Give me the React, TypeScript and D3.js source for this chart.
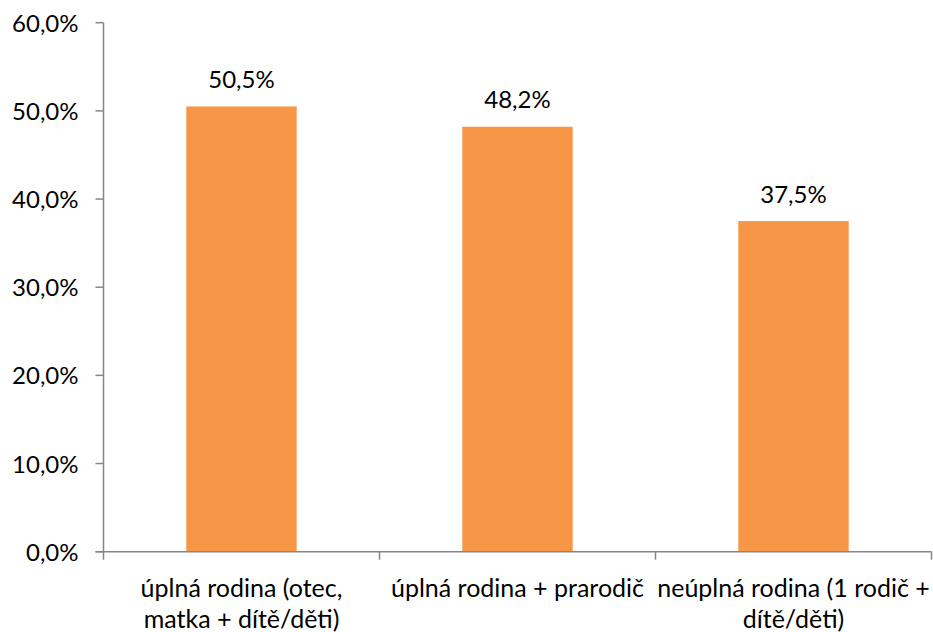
import React from "react";
import * as d3 from "d3";

const categories: string[][] = [
  ["úplná rodina (otec,", "matka + dítě/děti)"],
  ["úplná rodina + prarodič"],
  ["neúplná rodina (1 rodič +", "dítě/děti)"],
];
const values: number[] = [50.5, 48.2, 37.5];
const yTicks: number[] = [0, 10, 20, 30, 40, 50, 60];

const W = 933;
const H = 632;
const margin = { left: 103.5, right: 1.5, top: 22.7, bottom: 80.3 };
const FONT = "Lato, 'Open Sans', sans-serif";
const BAR = "#F79646";
const AXIS = "#868686";

const fmt = (v: number) => v.toFixed(1).replace(".", ",") + "%";

export default function App() {
  const innerW = W - margin.left - margin.right;
  const x = d3
    .scaleBand<number>()
    .domain(categories.map((_, i) => i))
    .range([margin.left, margin.left + innerW])
    .paddingInner(0.6)
    .paddingOuter(0.3);
  const band = d3
    .scaleBand<number>()
    .domain(categories.map((_, i) => i))
    .range([margin.left, margin.left + innerW]);
  const y = d3.scaleLinear().domain([0, 60]).range([H - margin.bottom, margin.top]);
  const y0 = y(0);

  return (
    <svg
      width={W}
      height={H}
      style={{ position: "absolute", left: 0, top: 0, background: "#fff" }}
      fontFamily={FONT}
    >
      {/* bars */}
      {values.map((v, i) => (
        <rect key={i} x={x(i)} y={y(v)} width={x.bandwidth()} height={y0 - y(v)} fill={BAR} />
      ))}
      {/* value labels */}
      {values.map((v, i) => (
        <text
          key={"l" + i}
          x={(x(i) as number) + x.bandwidth() / 2}
          y={y(v) - 18.5}
          textAnchor="middle"
          fontSize={24}
          fill="#000"
        >
          {fmt(v)}
        </text>
      ))}
      {/* y axis */}
      <line x1={margin.left} x2={margin.left} y1={y(60)} y2={y0} stroke={AXIS} strokeWidth={1.5} />
      {yTicks.map((t) => (
        <g key={"y" + t}>
          <line x1={margin.left - 8} x2={margin.left} y1={y(t)} y2={y(t)} stroke={AXIS} strokeWidth={1.5} />
          <text x={margin.left - 25} y={y(t) + 9} textAnchor="end" fontSize={24} fill="#000">
            {fmt(t)}
          </text>
        </g>
      ))}
      {/* x axis */}
      <line x1={margin.left - 8} x2={W - margin.right} y1={y0} y2={y0} stroke={AXIS} strokeWidth={1.5} />
      {[...categories.map((_, i) => band(i) as number), margin.left + innerW].map((px, i) => (
        <line key={"xt" + i} x1={px} x2={px} y1={y0} y2={y0 + 8} stroke={AXIS} strokeWidth={1.5} />
      ))}
      {categories.map((lines, i) => (
        <text
          key={"c" + i}
          x={(band(i) as number) + band.bandwidth() / 2}
          y={y0 + 45}
          textAnchor="middle"
          fontSize={25}
          fill="#000"
        >
          {lines.map((ln, j) => (
            <tspan key={j} x={(band(i) as number) + band.bandwidth() / 2} dy={j === 0 ? 0 : 31}>
              {ln}
            </tspan>
          ))}
        </text>
      ))}
    </svg>
  );
}
